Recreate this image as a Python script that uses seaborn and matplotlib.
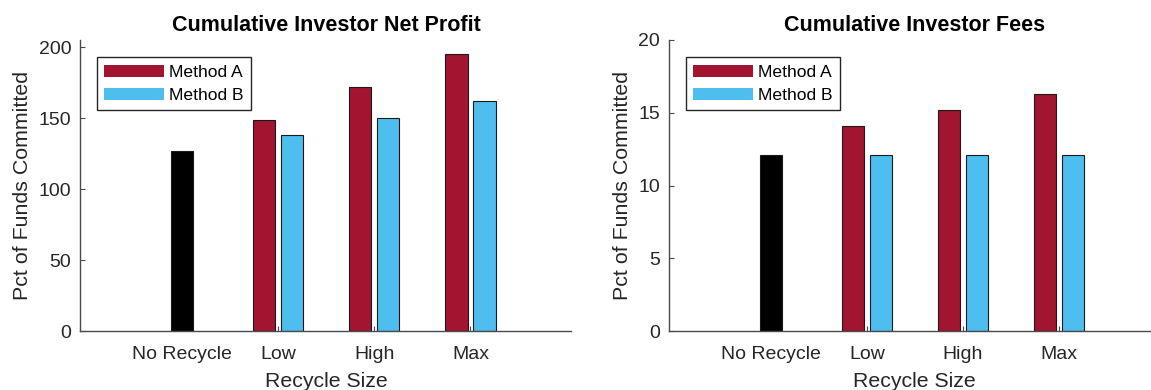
import matplotlib
matplotlib.use("Agg")
import matplotlib.pyplot as plt
import pandas as pd
import seaborn as sns
from matplotlib.patches import Patch

# ---- data ----
categories = ["No Recycle", "Low", "High", "Max"]
recycle_levels = ["Low", "High", "Max"]
methods = ["Method A", "Method B"]

profit_baseline = 126.5
profit_method_a = [148.7, 171.8, 194.9]
profit_method_b = [138.2, 150.4, 162.3]

fees_baseline = 12.07
fees_method_a = [14.07, 15.2, 16.3]
fees_method_b = [12.07, 12.07, 12.07]

titles = ["Cumulative Investor Net Profit", "Cumulative Investor Fees"]
profit_yticks = [0, 50, 100, 150, 200]
fees_yticks = [0, 5, 10, 15, 20]

# ---- style ----
RED = "#A2142F"
BLUE = "#4DBEEE"
EDGE = "#1a1a1a"
AXIS = "#4a4a4a"
TEXT = "#262626"

sns.set_style("white")
plt.rcParams["font.family"] = ["Liberation Sans", "DejaVu Sans"]

fig = plt.figure(figsize=(11.51, 3.90), dpi=100)
ax_left = fig.add_axes([80.4 / 1151, 59 / 390, 491 / 1151, 291 / 390])
ax_right = fig.add_axes([669.2 / 1151, 59 / 390, 491 / 1151, 291 / 390])


def draw_panel(ax, baseline, vals_a, vals_b, title, yticks, ytop):
    df = pd.DataFrame({
        "Recycle Size": recycle_levels * 2,
        "Method": [methods[0]] * len(recycle_levels) + [methods[1]] * len(recycle_levels),
        "Pct": list(vals_a) + list(vals_b),
    })
    sns.barplot(data=df, x="Recycle Size", y="Pct", hue="Method",
                order=categories, hue_order=methods, palette=[RED, BLUE],
                width=0.58, gap=0.2, saturation=1, errorbar=None,
                edgecolor=EDGE, linewidth=0.8, legend=False, ax=ax)
    base_df = pd.DataFrame({"Recycle Size": ["No Recycle"], "Pct": [baseline]})
    sns.barplot(data=base_df, x="Recycle Size", y="Pct", order=categories,
                color="black", width=0.232, saturation=1, errorbar=None,
                edgecolor=EDGE, linewidth=0.8, ax=ax)

    ax.set_xlim(-1.055, 4.05)
    ax.set_ylim(0, ytop)
    ax.set_yticks(yticks)
    ax.set_yticklabels([str(t) for t in yticks])

    for side in ("top", "right"):
        ax.spines[side].set_visible(False)
    for side in ("left", "bottom"):
        ax.spines[side].set_color(AXIS)
        ax.spines[side].set_linewidth(1.0)

    ax.tick_params(axis="both", which="major", bottom=True, left=True,
                   direction="in", length=3.5, width=0.8,
                   color=AXIS, labelsize=14, labelcolor=TEXT)
    ax.tick_params(axis="x", pad=10.5)
    ax.tick_params(axis="y", pad=6.5)

    ax.set_title(title, fontsize=15.5, fontweight="bold", color="black", pad=6.5)
    ax.set_xlabel("Recycle Size", fontsize=15.3, color=TEXT, labelpad=6.5)
    ax.set_ylabel("Pct of Funds Committed", fontsize=15.4, color=TEXT, labelpad=4.5)

    handles = [Patch(facecolor=RED, edgecolor="none"),
               Patch(facecolor=BLUE, edgecolor="none")]
    leg = ax.legend(handles, methods, loc="upper left",
                    bbox_to_anchor=(16.6 / 491, 1 - 17.3 / 291),
                    borderaxespad=0, frameon=True, fancybox=False,
                    framealpha=1, edgecolor=TEXT, fontsize=12.6,
                    handlelength=3.4, handleheight=0.7, handletextpad=0.3,
                    borderpad=0.42, labelspacing=0.45)
    leg.get_frame().set_linewidth(1.0)
    for t in leg.get_texts():
        t.set_color("black")


draw_panel(ax_left, profit_baseline, profit_method_a, profit_method_b,
           titles[0], profit_yticks, 205)
draw_panel(ax_right, fees_baseline, fees_method_a, fees_method_b,
           titles[1], fees_yticks, 20)

fig.savefig("out.png", dpi=100)
